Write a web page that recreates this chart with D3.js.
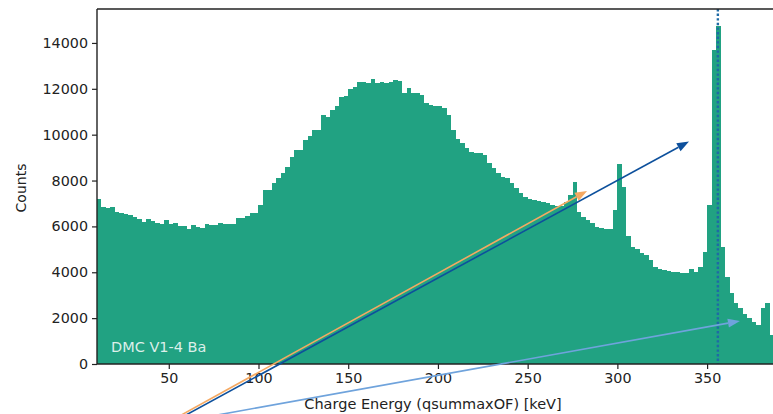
<!DOCTYPE html>
<html>
<head>
<meta charset="utf-8">
<script src="https://cdn.jsdelivr.net/npm/d3@7"></script>
<style>
  html, body { margin: 0; padding: 0; background: #fff; }
  svg { display: block; font-family: "DejaVu Sans", sans-serif; }
</style>
</head>
<body>
<svg id="chart" width="773" height="414"></svg>
<script>
// Histogram of charge energy, 2.5 keV bins starting at 10 keV
const binLow = 10;
const binWidth = 2.5;
const counts = [
  7180, 6860, 6790, 6860, 6640, 6570, 6550, 6500, 6420, 6310,
  6200, 6310, 6250, 6160, 6090, 6270, 6090, 6160, 6020, 6000,
  5870, 6060, 5960, 5920, 6100, 6080, 6080, 6130, 6100, 6100,
  6100, 6350, 6350, 6450, 6570, 6570, 6930, 7590, 7590, 7880,
  8100, 8310, 8600, 9040, 9330, 9330, 9770, 9940, 10200, 10200,
  10850, 10780, 11070, 11250, 11650, 11680, 11975, 12090, 12310, 12310,
  12240, 12410, 12270, 12310, 12270, 12310, 12380, 12340, 11800, 12020,
  11830, 11830, 11730, 11360, 11290, 11250, 11250, 11150, 10850, 10200,
  9790, 9650, 9440, 9260, 9210, 9190, 9100, 8750, 8530, 8310,
  8170, 8100, 7880, 7660, 7440, 7300, 7200, 7150, 7100, 7050,
  7000, 6950, 6900, 6900, 7050, 7370, 7950, 6640, 6420, 6280,
  6130, 5990, 5910, 5900, 5890, 6710, 8720, 7730, 5600, 5100,
  5000, 4850, 4750, 4530, 4240, 4150, 4080, 4050, 4000, 4000,
  3950, 3950, 4140, 4000, 4210, 4900, 6930, 13700, 14750, 5110,
  3810, 3080, 2650, 2430, 2180, 1990, 1840, 1700, 2440, 2660,
  1260
];

const xTicks = [50, 100, 150, 200, 250, 300, 350];
const yTicks = [0, 2000, 4000, 6000, 8000, 10000, 12000, 14000];
const xDomain = [10, 400];
const yDomain = [0, 15480];

// Reference line at the 356 keV Ba-133 gamma line
const lineEnergy = 356;

// Annotation arrows: start energy/counts, end energy/counts, colour
const arrowStartE = [52.0, 54.5, 67.4];
const arrowStartC = [-2440, -2440, -2360];
const arrowEndE   = [283.1, 339.9, 368.3];
const arrowEndC   = [7545, 9704, 1875];
const arrowColors = ["#f5a962", "#0d509c", "#6fa3dc"];

const label = "DMC V1-4 Ba";
const xLabel = "Charge Energy (qsummaxOF) [keV]";
const yLabel = "Counts";

const svg = d3.select("#chart");
const plotLeft = 97, plotTop = 9, plotBottom = 364;
const pxPerKeV = 1.7944;

const x = d3.scaleLinear().domain(xDomain)
  .range([plotLeft, plotLeft + (xDomain[1] - xDomain[0]) * pxPerKeV]);
const y = d3.scaleLinear().domain(yDomain).range([plotBottom, plotTop]);

const bars = counts.map((c, i) => ({ lo: binLow + i * binWidth, hi: binLow + (i + 1) * binWidth, c }));

svg.append("g")
  .selectAll("rect")
  .data(bars)
  .join("rect")
  .attr("x", d => x(d.lo))
  .attr("y", d => y(d.c))
  .attr("width", d => x(d.hi) - x(d.lo))
  .attr("height", d => y(0) - y(d.c))
  .attr("fill", "#21a282")
  .attr("shape-rendering", "crispEdges");

// dotted marker line
svg.append("line")
  .attr("x1", x(lineEnergy)).attr("x2", x(lineEnergy))
  .attr("y1", plotTop).attr("y2", plotBottom)
  .attr("stroke", "#1f6aa5")
  .attr("stroke-width", 2.4)
  .attr("stroke-dasharray", "2.4,2.2");

// text label inside the axes
svg.append("text")
  .attr("x", 111).attr("y", 351.5)
  .attr("font-size", 14.5)
  .attr("fill", "rgba(255,255,255,0.85)")
  .text(label);

// axes
const fmt = d3.format("d");
const xAxis = d3.axisBottom(x).tickValues(xTicks).tickFormat(fmt).tickSize(5).tickPadding(4);
const yAxis = d3.axisLeft(y).tickValues(yTicks).tickFormat(fmt).tickSize(5).tickPadding(4);

const gx = svg.append("g").attr("transform", `translate(0,${plotBottom})`).call(xAxis);
const gy = svg.append("g").attr("transform", `translate(${plotLeft},0)`).call(yAxis);
[gx, gy].forEach(g => {
  g.select(".domain").remove();
  g.selectAll(".tick line").attr("stroke", "#222").attr("stroke-width", 1.2);
  g.selectAll(".tick text").attr("fill", "#222").attr("font-size", 14.3)
    .attr("font-family", "DejaVu Sans, sans-serif");
});

// spines
const spine = svg.append("g").attr("stroke", "#222").attr("stroke-width", 1.4).attr("fill", "none");
spine.append("line").attr("x1", plotLeft).attr("x2", plotLeft).attr("y1", plotTop).attr("y2", plotBottom);
spine.append("line").attr("x1", plotLeft).attr("x2", 773).attr("y1", plotBottom).attr("y2", plotBottom);
spine.append("line").attr("x1", plotLeft).attr("x2", 773).attr("y1", plotTop).attr("y2", plotTop);

// arrows
arrowEndE.forEach((e, i) => {
  const x0 = x(arrowStartE[i]), y0 = y(arrowStartC[i]);
  const x1 = x(e), y1 = y(arrowEndC[i]);
  const ang = Math.atan2(y1 - y0, x1 - x0);
  const hl = 12, hw = 4.5;
  const bx = x1 - hl * Math.cos(ang), by = y1 - hl * Math.sin(ang);
  svg.append("line")
    .attr("x1", x0).attr("y1", y0).attr("x2", bx).attr("y2", by)
    .attr("stroke", arrowColors[i]).attr("stroke-width", 1.6);
  const px = -Math.sin(ang), py = Math.cos(ang);
  svg.append("path")
    .attr("d", `M${x1},${y1}L${bx + hw * px},${by + hw * py}L${bx - hw * px},${by - hw * py}Z`)
    .attr("fill", arrowColors[i]);
});

// axis titles
svg.append("text")
  .attr("x", 433).attr("y", 409)
  .attr("text-anchor", "middle")
  .attr("font-size", 14.5).attr("fill", "#222")
  .text(xLabel);

svg.append("text")
  .attr("transform", "translate(26,188) rotate(-90)")
  .attr("text-anchor", "middle")
  .attr("font-size", 14).attr("fill", "#222")
  .text(yLabel);
</script>
</body>
</html>
